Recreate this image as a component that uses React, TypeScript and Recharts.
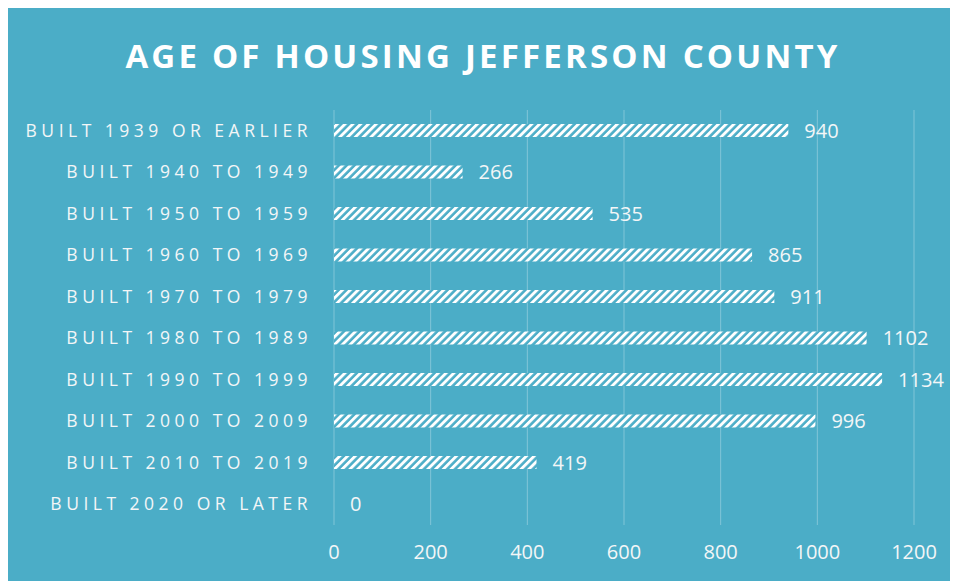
import React from 'react'
import { BarChart, Bar, XAxis, YAxis, CartesianGrid, LabelList } from 'recharts'

const categories = [
  'BUILT 1939 OR EARLIER',
  'BUILT 1940 TO 1949',
  'BUILT 1950 TO 1959',
  'BUILT 1960 TO 1969',
  'BUILT 1970 TO 1979',
  'BUILT 1980 TO 1989',
  'BUILT 1990 TO 1999',
  'BUILT 2000 TO 2009',
  'BUILT 2010 TO 2019',
  'BUILT 2020 OR LATER',
]
const units = [940, 266, 535, 865, 911, 1102, 1134, 996, 419, 0]
const xTicks = [0, 200, 400, 600, 800, 1000, 1200]

const data = categories.map((name, i) => ({ name, units: units[i] }))

const font = '"Open Sans", sans-serif'
const textColor = '#f3f6f7'

export default function App() {
  return (
    <div style={{ position: 'relative', width: 950, height: 573, background: '#4badc7', fontFamily: font }}>
      <div
        style={{
          position: 'absolute',
          top: 25,
          left: 0,
          width: 950,
          textAlign: 'center',
          color: '#ffffff',
          fontSize: 33,
          fontWeight: 700,
          letterSpacing: 3.2,
        }}
      >
        AGE OF HOUSING JEFFERSON COUNTY
      </div>
      <BarChart
        width={950}
        height={573}
        data={data}
        layout="vertical"
        margin={{ top: 102, right: 44, bottom: 26, left: 0 }}
        barSize={13}
      >
        <defs>
          <pattern id="hatch" width="5.5" height="5.5" patternUnits="userSpaceOnUse" patternTransform="rotate(45)">
            <rect width="5.5" height="5.5" fill="#4badc7" />
            <rect width="2.9" height="5.5" fill="#ffffff" />
          </pattern>
        </defs>
        <CartesianGrid horizontal={false} stroke="rgba(255,255,255,0.3)" />
        <XAxis
          type="number"
          domain={[0, 1200]}
          ticks={xTicks}
          axisLine={false}
          tickLine={false}
          tickSize={0}
          tickMargin={20}
          tick={{ fill: textColor, fontSize: 20, fontFamily: font }}
        />
        <YAxis
          type="category"
          dataKey="name"
          width={326}
          axisLine={false}
          tickLine={false}
          tickSize={0}
          tickMargin={22}
          tick={{ fill: textColor, fontSize: 17.5, fontFamily: font, style: { letterSpacing: 4.5 } }}
        />
        <Bar dataKey="units" fill="url(#hatch)" minPointSize={0.01} isAnimationActive={false}>
          <LabelList dataKey="units" position="right" offset={16} fill={textColor} fontSize={20} fontFamily={font} />
        </Bar>
      </BarChart>
    </div>
  )
}
